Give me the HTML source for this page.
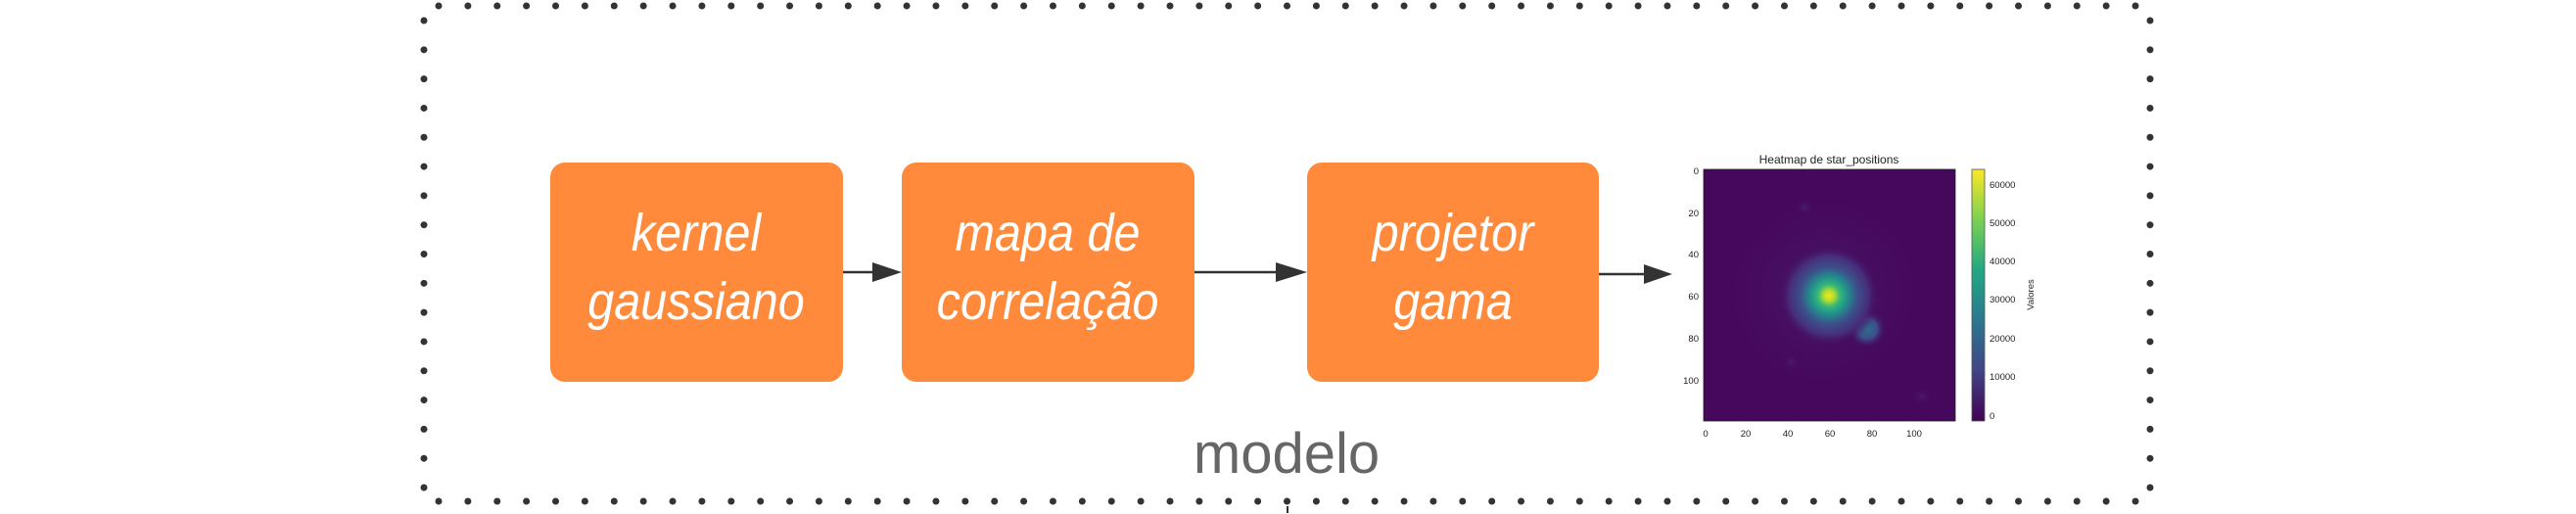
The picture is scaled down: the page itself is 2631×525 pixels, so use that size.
<!DOCTYPE html>
<html><head><meta charset="utf-8"><style>
html,body{margin:0;padding:0;background:#fff;}
svg{display:block;}
</style></head><body>
<svg width="2631" height="525" viewBox="0 0 2631 525" xmlns="http://www.w3.org/2000/svg">
<defs>
<radialGradient id="g1" cx="0.5" cy="0.5" r="0.5">
<stop offset="0" stop-color="#f5e51f"/>
<stop offset="0.1" stop-color="#b5de2b"/>
<stop offset="0.22" stop-color="#35b779"/>
<stop offset="0.36" stop-color="#21918c"/>
<stop offset="0.55" stop-color="#3b528b"/>
<stop offset="0.78" stop-color="#472d7b"/>
<stop offset="1" stop-color="#46085c" stop-opacity="0"/>
</radialGradient>
<radialGradient id="g2" cx="0.5" cy="0.5" r="0.5">
<stop offset="0" stop-color="#2f6c8e"/>
<stop offset="0.5" stop-color="#3b4f8a"/>
<stop offset="1" stop-color="#46085c" stop-opacity="0"/>
</radialGradient>
<radialGradient id="g3" cx="0.5" cy="0.5" r="0.5">
<stop offset="0" stop-color="#482878" stop-opacity="0.6"/>
<stop offset="1" stop-color="#46085c" stop-opacity="0"/>
</radialGradient>
<linearGradient id="cb" x1="0" y1="1" x2="0" y2="0">
<stop offset="0" stop-color="#440154"/>
<stop offset="0.2" stop-color="#414487"/>
<stop offset="0.4" stop-color="#2a788e"/>
<stop offset="0.6" stop-color="#22a884"/>
<stop offset="0.8" stop-color="#7ad151"/>
<stop offset="1" stop-color="#fde725"/>
</linearGradient>
</defs>
<!-- dotted border -->
<g stroke="#333" stroke-width="7" stroke-linecap="round" fill="none">
<line x1="448" y1="6" x2="2181.1" y2="6" stroke-dasharray="0 29.88"/>
<line x1="448" y1="512" x2="2181.1" y2="512" stroke-dasharray="0 29.88"/>
<line x1="433" y1="21" x2="433" y2="498.1" stroke-dasharray="0 29.8125"/>
<line x1="2196" y1="21" x2="2196" y2="498.1" stroke-dasharray="0 29.8125"/>
</g>
<!-- boxes -->
<g fill="#ff8a3b">
<rect x="562" y="166" width="299" height="224" rx="15"/>
<rect x="921" y="166" width="299" height="224" rx="15"/>
<rect x="1335" y="166" width="298" height="224" rx="15"/>
</g>
<g font-family="Liberation Sans, sans-serif" font-style="italic" font-size="54" fill="#fff" text-anchor="middle">
<g transform="translate(711,0) scale(0.9,1)"><text x="0" y="256">kernel</text><text x="0" y="326">gaussiano</text></g>
<g transform="translate(1070,0) scale(0.9,1)"><text x="0" y="256">mapa de</text><text x="0" y="326">correlação</text></g>
<g transform="translate(1484,0) scale(0.9,1)"><text x="0" y="256">projetor</text><text x="0" y="326">gama</text></g>
</g>
<!-- arrows -->
<g stroke="#333" stroke-width="2.5">
<line x1="861" y1="278" x2="895" y2="278"/>
<line x1="1220" y1="278" x2="1305" y2="278"/>
<line x1="1633" y1="280" x2="1682" y2="280"/>
</g>
<g fill="#333">
<polygon points="891,268 921,278 891,288"/>
<polygon points="1303,268 1335,278 1303,288"/>
<polygon points="1679,270 1708,280 1679,290"/>
</g>
<text x="1314" y="483" font-family="Liberation Sans, sans-serif" font-size="58" fill="#666" text-anchor="middle">modelo</text>
<rect x="1314" y="517" width="2" height="7" fill="#333"/>
<!-- heatmap -->
<rect x="1740" y="173" width="257" height="257" fill="#46085c"/>
<circle cx="1862" cy="298" r="110" fill="url(#g3)"/>
<circle cx="1907" cy="336" r="20" fill="url(#g2)"/>
<circle cx="1843" cy="212" r="10" fill="url(#g3)"/>
<circle cx="1829" cy="370" r="10" fill="url(#g3)"/>
<circle cx="1963" cy="405" r="10" fill="url(#g3)"/>
<circle cx="1868" cy="302" r="52" fill="url(#g1)"/>
<rect x="1740" y="173" width="257" height="257" fill="none" stroke="#222" stroke-width="0.8"/>
<rect x="2014" y="173" width="13" height="257" fill="url(#cb)" stroke="#555" stroke-width="0.8"/>
<g font-family="Liberation Sans, sans-serif" font-size="9.5" fill="#222">
<text x="1868" y="167" text-anchor="middle" font-size="12">Heatmap de star_positions</text>
<g text-anchor="end">
<text x="1735" y="178">0</text><text x="1735" y="221">20</text><text x="1735" y="263">40</text>
<text x="1735" y="306">60</text><text x="1735" y="349">80</text><text x="1735" y="392">100</text>
</g>
<g text-anchor="middle">
<text x="1742" y="446">0</text><text x="1783" y="446">20</text><text x="1826" y="446">40</text>
<text x="1869" y="446">60</text><text x="1912" y="446">80</text><text x="1955" y="446">100</text>
</g>
<text x="2032" y="192">60000</text><text x="2032" y="231">50000</text><text x="2032" y="270">40000</text>
<text x="2032" y="309">30000</text><text x="2032" y="349">20000</text><text x="2032" y="388">10000</text>
<text x="2032" y="428">0</text>
<text transform="translate(2077,301) rotate(-90)" text-anchor="middle">Valores</text>
</g>
</svg>
</body></html>
